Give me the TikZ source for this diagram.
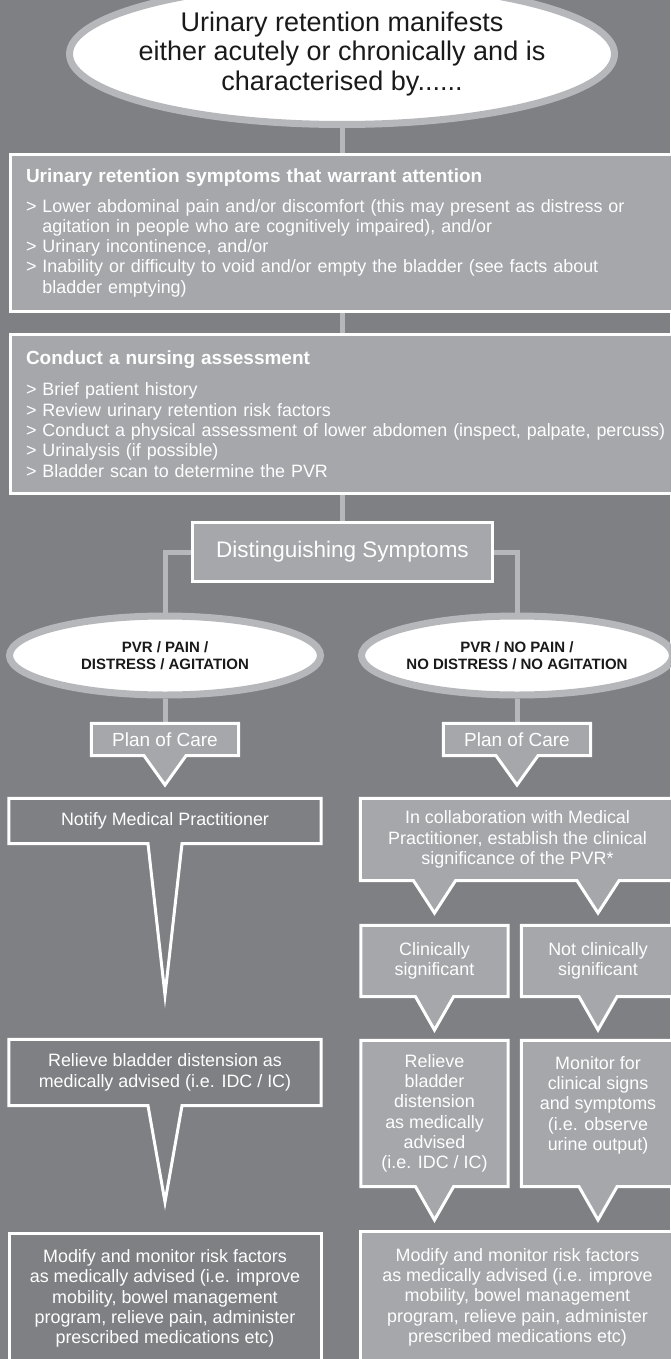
\documentclass[tikz,border=0pt]{standalone}
\usepackage{fontspec}
\setmainfont{Liberation Sans}
\usetikzlibrary{shapes.geometric, calc, backgrounds, positioning}

\definecolor{bggray}{HTML}{7F8084}
\definecolor{boxgray}{HTML}{A6A7AB}
\definecolor{ringgray}{HTML}{B6B7BA}
\definecolor{inkblack}{HTML}{1A1A1A}

\newcommand{\manifestfont}{\fontsize{27}{29.5}\selectfont}
\newcommand{\flowfont}{\fontsize{17.9}{20.3}\selectfont}
\newcommand{\ovalfont}{\fontsize{15}{17}\selectfont\bfseries}

% box outline with a pointer; #5 pushes the right side past the page edge
\newcommand{\speech}[5]{%
  \draw[#1] (#2.south west) -- (#2.north west) -- ($(#2.north east)+(#5,0)$)
    -- ($(#2.south east)+(#5,0)$)
    -- ($(#3 |- #2.south)+(#4,0)$) -- (#3) -- ($(#3 |- #2.south)+(-#4,0)$) -- cycle;}

\tikzset{
  oval/.style={ellipse, draw=ringgray, line width=7pt, fill=white, text=inkblack,
    align=center, inner xsep=-40pt, inner ysep=0pt},
  panel/.style={rectangle, draw=white, line width=3pt, fill=boxgray, text=white,
    inner sep=0pt},
  darkpanel/.style={panel, fill=bggray, align=center, font=\flowfont},
  bubbletext/.style={rectangle, inner sep=0pt, align=center, text=white, font=\flowfont},
  link/.style={draw=ringgray, line width=5pt},
  lightcall/.style={draw=white, line width=3pt, fill=boxgray},
  darkcall/.style={draw=white, line width=3pt, fill=bggray},
}

\begin{document}
\begin{tikzpicture}[x=1pt, y=-1pt]
  \useasboundingbox (0,0) rectangle (670,1359);

  % main column
  \node[oval, minimum width=545, minimum height=141, font=\manifestfont] (manifest) at (342,54)
    {Urinary retention manifests\\either acutely or chronically and is\\characterised by......};

  \node[panel, minimum width=669.5, minimum height=157, text width=638.5, align=left, font=\flowfont]
    (symptoms) at (345.25,233)
    {{\fontsize{19}{20.3}\selectfont\bfseries Urinary retention symptoms that warrant attention}\\[9pt]
     > Lower abdominal pain and/or discomfort (this may present as distress or\\
     \phantom{>} agitation in people who are cognitively impaired), and/or\\
     > Urinary incontinence, and/or\\
     > Inability or difficulty to void and/or empty the bladder (see facts about\\
     \phantom{>} bladder emptying)};

  \node[panel, minimum width=669.5, minimum height=159, text width=638.5, align=left, font=\flowfont]
    (assess) at (345.25,414)
    {{\fontsize{19}{20.3}\selectfont\bfseries Conduct a nursing assessment}\\[11pt]
     > Brief patient history\\
     > Review urinary retention risk factors\\
     \mbox{> Conduct a physical assessment of lower abdomen (inspect, palpate, percuss)}\\
     > Urinalysis (if possible)\\
     > Bladder scan to determine the PVR};

  \node[panel, minimum width=300, minimum height=59, font=\fontsize{22.5}{26}\selectfont]
    (distinguish) at (342.5,552) {Distinguishing Symptoms};

  \node[oval, minimum width=311, minimum height=79, font=\ovalfont] (pvrPain) at (165,655.5)
    {PVR / PAIN /\\DISTRESS / AGITATION};
  \node[oval, minimum width=311, minimum height=79, font=\ovalfont] (pvrNoPain) at (517,655.5)
    {PVR / NO PAIN /\\NO DISTRESS / NO AGITATION};

  % left column
  \node[bubbletext, minimum width=147, minimum height=32, font=\fontsize{19}{22}\selectfont]
    (planL) at (165,739.5) {Plan of Care};
  \node[bubbletext, minimum width=312, minimum height=45] (notify) at (165,821)
    {Notify Medical Practitioner};
  \node[bubbletext, minimum width=312, minimum height=66] (relieveL) at (165,1072.5)
    {Relieve bladder distension as\\medically advised (i.e. IDC / IC)};
  \node[darkpanel, anchor=north, minimum width=312, minimum height=147.5] (modifyL) at (165,1231.5)
    {Modify and monitor risk factors\\as medically advised (i.e. improve\\mobility, bowel management\\program, relieve pain, administer\\prescribed medications etc)\\ \mbox{}};

  % right column
  \node[bubbletext, minimum width=147, minimum height=32, font=\fontsize{19}{22}\selectfont]
    (planR) at (517,739.5) {Plan of Care};
  \node[bubbletext, minimum width=314, minimum height=82] (collab) at (517.5,839.5)
    {In collaboration with Medical\\Practitioner, establish the clinical\\significance of the PVR*};
  \node[bubbletext, minimum width=147, minimum height=71] (clin) at (434.5,961)
    {Clinically\\significant};
  \node[bubbletext, minimum width=153, minimum height=71] (notClin) at (598,961)
    {Not clinically\\significant};
  \node[bubbletext, minimum width=147, minimum height=146] (relieveR) at (434.5,1113.5)
    {Relieve\\bladder\\distension\\as medically\\advised\\(i.e. IDC / IC)};
  \node[bubbletext, minimum width=153, minimum height=146] (monitor) at (598,1113.5)
    {Monitor for\\clinical signs\\and symptoms\\(i.e. observe\\urine output)\\ \mbox{}};
  \node[bubbletext, anchor=north, minimum width=314, minimum height=147.5] (modifyR) at (517.5,1231.5)
    {Modify and monitor risk factors\\as medically advised (i.e. improve\\mobility, bowel management\\program, relieve pain, administer\\prescribed medications etc)\\ \mbox{}};

  % pointer tips
  \coordinate (tipPL) at (165,785);
  \coordinate (tipPR) at (517,785);
  \coordinate (tipN) at (165,995);
  \coordinate (tipRL) at (165,1202);
  \coordinate (tipCL) at (434.5,913);
  \coordinate (tipCR) at (598,913);
  \coordinate (tipK) at (434.5,1030);
  \coordinate (tipNK) at (598,1030);
  \coordinate (tipRR) at (434.5,1220);
  \coordinate (tipM) at (598,1220);

  \begin{scope}[on background layer]
    \fill[bggray] (0,0) rectangle (670,1359);

    \draw[link] (manifest.south) -- (symptoms.north -| manifest.south);
    \draw[link] (symptoms.south -| manifest.south) -- (assess.north -| manifest.south);
    \draw[link] (assess.south -| distinguish.north) -- (distinguish.north);
    \draw[link] (pvrPain.north) |- (distinguish.center) -| (pvrNoPain.north);
    \draw[link] (pvrPain.south) -- (planL.north);
    \draw[link] (pvrNoPain.south) -- (planR.north);

    \speech{lightcall}{planL}{tipPL}{21}{0}
    \speech{lightcall}{planR}{tipPR}{21}{0}
    \speech{darkcall}{notify}{tipN}{17}{0}
    \speech{darkcall}{relieveL}{tipRL}{17}{0}
    \speech{lightcall}{clin}{tipK}{19}{0}
    \speech{lightcall}{notClin}{tipNK}{19}{8}
    \speech{lightcall}{relieveR}{tipRR}{19}{0}
    \speech{lightcall}{monitor}{tipM}{19}{8}
    \draw[lightcall] (collab.south west) -- (collab.north west) -- ($(collab.north east)+(8,0)$)
      -- ($(collab.south east)+(8,0)$) -- ($(tipCR |- collab.south)+(21,0)$) -- (tipCR)
      -- ($(tipCR |- collab.south)+(-21,0)$) -- ($(tipCL |- collab.south)+(21,0)$)
      -- (tipCL) -- ($(tipCL |- collab.south)+(-21,0)$) -- cycle;
    \draw[lightcall] (modifyR.south west) -- (modifyR.north west)
      -- ($(modifyR.north east)+(8,0)$) -- ($(modifyR.south east)+(8,0)$) -- cycle;
  \end{scope}
\end{tikzpicture}
\end{document}
